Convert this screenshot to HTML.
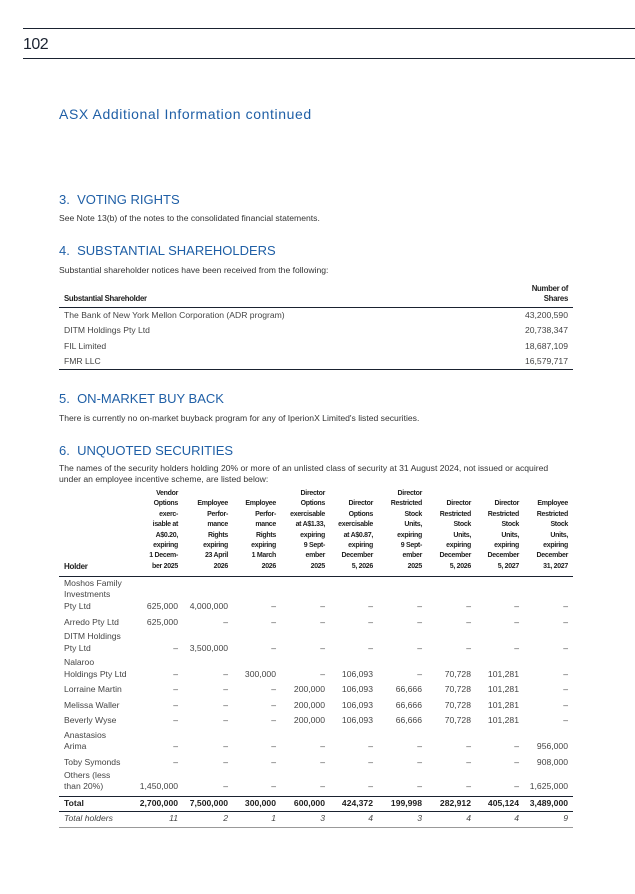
<!DOCTYPE html>
<html><head><meta charset="utf-8"><style>
*{margin:0;padding:0;box-sizing:border-box}
body{width:635px;height:894px;background:#fff;position:relative;font-family:"Liberation Sans",sans-serif;color:#333;overflow:hidden}
.a{position:absolute}
.hr{position:absolute;left:23px;right:0;height:1px;background:#1a2230}
h1{position:absolute;left:59px;font-weight:normal;color:#1f5fa6;font-size:14px;letter-spacing:0.6px}
h2{position:absolute;left:59px;font-weight:normal;color:#1f5fa6;font-size:13px}
p{position:absolute;left:59px;font-size:8.6px;color:#333;line-height:11px;white-space:nowrap}
.r{position:absolute;left:64px;width:504px;font-size:8.6px;line-height:11px;color:#444}
.r span{position:absolute;right:0;top:0}
table{border-collapse:collapse;table-layout:fixed;font-size:8.6px;color:#444}
td,th{padding:0;text-align:right;vertical-align:bottom;white-space:nowrap}
td{padding-bottom:2px}
th{font-weight:bold;color:#222;font-size:7px;line-height:10.4px;letter-spacing:-0.3px}
td:first-child,th:first-child{text-align:left}
</style></head><body>
<div class="hr" style="top:28px"></div>
<div class="a" style="left:23px;top:36px;font-size:16px;color:#1a2230;letter-spacing:-0.5px">102</div>
<div class="hr" style="top:58px"></div>
<h1 style="top:106px">ASX Additional Information continued</h1>

<h2 style="top:192px">3.&nbsp; VOTING RIGHTS</h2>
<p style="top:213px">See Note 13(b) of the notes to the consolidated financial statements.</p>

<h2 style="top:243px">4.&nbsp; SUBSTANTIAL SHAREHOLDERS</h2>
<p style="top:265px">Substantial shareholder notices have been received from the following:</p>

<div class="r" style="top:284px;font-weight:bold;color:#222;font-size:7.8px;letter-spacing:-0.3px;line-height:10px">
<div style="position:absolute;top:10px">Substantial Shareholder</div>
<span style="text-align:right">Number of<br>Shares</span></div>
<div class="a" style="left:59px;width:514px;top:307px;height:1px;background:#1a2230"></div>
<div class="r" style="top:310px">The Bank of New York Mellon Corporation (ADR program)<span>43,200,590</span></div>
<div class="r" style="top:325px">DITM Holdings Pty Ltd<span>20,738,347</span></div>
<div class="r" style="top:341px">FIL Limited<span>18,687,109</span></div>
<div class="r" style="top:356px">FMR LLC<span>16,579,717</span></div>
<div class="a" style="left:59px;width:514px;top:369px;height:1px;background:#1a2230"></div>

<h2 style="top:391px">5.&nbsp; ON-MARKET BUY BACK</h2>
<p style="top:413px">There is currently no on-market buyback program for any of IperionX Limited's listed securities.</p>

<h2 style="top:443px">6.&nbsp; UNQUOTED SECURITIES</h2>
<p style="top:463px">The names of the security holders holding 20% or more of an unlisted class of security at 31 August 2024, not issued or acquired<br>under an employee incentive scheme, are listed below:</p>

<table class="a" style="left:59px;top:489px;width:514px">
<colgroup><col style="width:76px"><col style="width:43px"><col style="width:50px"><col style="width:48px"><col style="width:49px"><col style="width:48px"><col style="width:49px"><col style="width:49px"><col style="width:48px"><col style="width:54px"></colgroup>
<tr style="border-bottom:1px solid #1a2230"><th style="padding-bottom:4px;padding-left:5px;font-size:8px">Holder</th><th style="padding-bottom:4px">Vendor<br>Options<br>exerc-<br>isable at<br>A$0.20,<br>expiring<br>1 Decem-<br>ber 2025</th><th style="padding-bottom:4px">Employee<br>Perfor-<br>mance<br>Rights<br>expiring<br>23 April<br>2026</th><th style="padding-bottom:4px">Employee<br>Perfor-<br>mance<br>Rights<br>expiring<br>1 March<br>2026</th><th style="padding-bottom:4px">Director<br>Options<br>exercisable<br>at A$1.33,<br>expiring<br>9 Sept-<br>ember<br>2025</th><th style="padding-bottom:4px">Director<br>Options<br>exercisable<br>at A$0.87,<br>expiring<br>December<br>5, 2026</th><th style="padding-bottom:4px">Director<br>Restricted<br>Stock<br>Units,<br>expiring<br>9 Sept-<br>ember<br>2025</th><th style="padding-bottom:4px">Director<br>Restricted<br>Stock<br>Units,<br>expiring<br>December<br>5, 2026</th><th style="padding-bottom:4px">Director<br>Restricted<br>Stock<br>Units,<br>expiring<br>December<br>5, 2027</th><th style="padding-bottom:4px;padding-right:5px">Employee<br>Restricted<br>Stock<br>Units,<br>expiring<br>December<br>31, 2027</th></tr>
</table>

<table class="a" style="left:59px;top:577px;width:514px;line-height:11.3px">
<colgroup><col style="width:76px"><col style="width:43px"><col style="width:50px"><col style="width:48px"><col style="width:49px"><col style="width:48px"><col style="width:49px"><col style="width:49px"><col style="width:48px"><col style="width:54px"></colgroup>
<tr style="height:37px"><td style="padding-left:5px">Moshos Family<br>Investments<br>Pty Ltd</td><td>625,000</td><td>4,000,000</td><td>–</td><td>–</td><td>–</td><td>–</td><td>–</td><td>–</td><td style="padding-right:5px">–</td></tr>
<tr style="height:16px"><td style="padding-left:5px">Arredo Pty Ltd</td><td>625,000</td><td>–</td><td>–</td><td>–</td><td>–</td><td>–</td><td>–</td><td>–</td><td style="padding-right:5px">–</td></tr>
<tr style="height:26px"><td style="padding-left:5px">DITM Holdings<br>Pty Ltd</td><td>–</td><td>3,500,000</td><td>–</td><td>–</td><td>–</td><td>–</td><td>–</td><td>–</td><td style="padding-right:5px">–</td></tr>
<tr style="height:26px"><td style="padding-left:5px">Nalaroo<br>Holdings Pty Ltd</td><td>–</td><td>–</td><td>300,000</td><td>–</td><td>106,093</td><td>–</td><td>70,728</td><td>101,281</td><td style="padding-right:5px">–</td></tr>
<tr style="height:15.5px"><td style="padding-left:5px">Lorraine Martin</td><td>–</td><td>–</td><td>–</td><td>200,000</td><td>106,093</td><td>66,666</td><td>70,728</td><td>101,281</td><td style="padding-right:5px">–</td></tr>
<tr style="height:15.5px"><td style="padding-left:5px">Melissa Waller</td><td>–</td><td>–</td><td>–</td><td>200,000</td><td>106,093</td><td>66,666</td><td>70,728</td><td>101,281</td><td style="padding-right:5px">–</td></tr>
<tr style="height:15.5px"><td style="padding-left:5px">Beverly Wyse</td><td>–</td><td>–</td><td>–</td><td>200,000</td><td>106,093</td><td>66,666</td><td>70,728</td><td>101,281</td><td style="padding-right:5px">–</td></tr>
<tr style="height:26px"><td style="padding-left:5px">Anastasios<br>Arima</td><td>–</td><td>–</td><td>–</td><td>–</td><td>–</td><td>–</td><td>–</td><td>–</td><td style="padding-right:5px">956,000</td></tr>
<tr style="height:15.5px"><td style="padding-left:5px">Toby Symonds</td><td>–</td><td>–</td><td>–</td><td>–</td><td>–</td><td>–</td><td>–</td><td>–</td><td style="padding-right:5px">908,000</td></tr>
<tr style="height:26px;border-bottom:1px solid #1a2230"><td style="padding:0 0 3px 5px">Others (less<br>than 20%)</td><td style="padding-bottom:3px">1,450,000</td><td style="padding-bottom:3px">–</td><td style="padding-bottom:3px">–</td><td style="padding-bottom:3px">–</td><td style="padding-bottom:3px">–</td><td style="padding-bottom:3px">–</td><td style="padding-bottom:3px">–</td><td style="padding-bottom:3px">–</td><td style="padding:0 5px 3px 0">1,625,000</td></tr>
<tr style="height:15.5px;border-bottom:1px solid #1a2230;font-weight:bold;color:#222"><td style="padding-left:5px">Total</td><td>2,700,000</td><td>7,500,000</td><td>300,000</td><td>600,000</td><td>424,372</td><td>199,998</td><td>282,912</td><td>405,124</td><td style="padding-right:5px">3,489,000</td></tr>
<tr style="height:15.5px;border-bottom:1px solid #999;font-style:italic"><td style="padding-left:5px">Total holders</td><td>11</td><td>2</td><td>1</td><td>3</td><td>4</td><td>3</td><td>4</td><td>4</td><td style="padding-right:5px">9</td></tr>
</table>
</body></html>
